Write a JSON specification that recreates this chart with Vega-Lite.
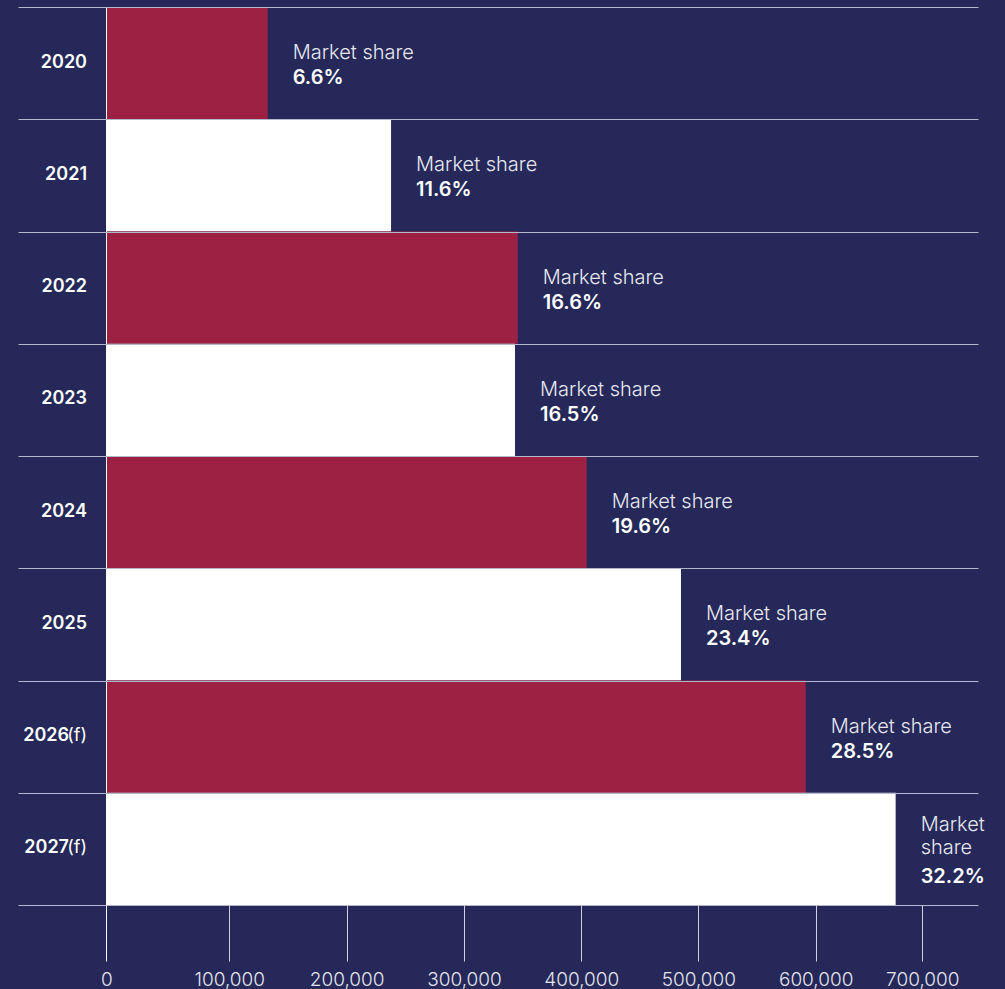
{
  "$schema": "https://vega.github.io/schema/vega-lite/v6.json",
  "width": 960,
  "height": 898,
  "autosize": {"type": "none"},
  "padding": {"left": 18, "top": 7, "right": 27, "bottom": 84},
  "background": "#252858",
  "config": {"view": {"stroke": null}, "font": "Inter"},
  "data": {
    "values": [
      {"year": "2020", "sales": 132700, "share": 6.6},
      {"year": "2021", "sales": 237800, "share": 11.6},
      {"year": "2022", "sales": 345800, "share": 16.6},
      {"year": "2023", "sales": 343500, "share": 16.5},
      {"year": "2024", "sales": 404600, "share": 19.6},
      {"year": "2025", "sales": 485200, "share": 23.4},
      {"year": "2026(f)", "sales": 591500, "share": 28.5},
      {"year": "2027(f)", "sales": 675000, "share": 32.2}
    ]
  },
  "transform": [
    {"calculate": "datum.sales > 650000", "as": "wrap"}
  ],
  "encoding": {
    "x": {
      "field": "sales",
      "type": "quantitative",
      "title": null,
      "scale": {
        "domain": [-71800, 0, 100000, 200000, 300000, 400000, 500000, 600000, 700000, 752250],
        "range": [0, 88.3, 211.3, 328.7, 446, 563.3, 680.3, 797.7, 904.3, 960],
        "nice": false,
        "zero": false
      },
      "axis": {
        "values": [0, 100000, 200000, 300000, 400000, 500000, 600000, 700000],
        "labelExpr": "format(datum.value, ',')",
        "domain": false,
        "tickSize": 56,
        "tickWidth": 1,
        "tickColor": {"condition": {"test": "datum.value === 0", "value": "#ffffff"}, "value": "#cfd1e0"},
        "labelPadding": 9,
        "labelFont": "Inter",
        "labelFontSize": 19,
        "labelFontWeight": 300,
        "labelColor": "#e2e3ec",
        "labelFlush": false,
        "grid": true,
        "gridWidth": 1,
        "gridColor": {"condition": {"test": "datum.value === 0", "value": "#ffffff"}, "value": "rgba(0,0,0,0)"},
        "zindex": 1
      }
    }
  },
  "layer": [
    {
      "mark": {"type": "bar"},
      "encoding": {
        "y": {
          "field": "year",
          "type": "nominal",
          "title": null,
          "scale": {"paddingInner": 0, "paddingOuter": 0},
          "axis": {
            "orient": "left",
            "domain": false,
            "ticks": false,
            "grid": true,
            "tickBand": "extent",
            "gridColor": "#b4b6cb",
            "gridWidth": 1.2,
            "labelPadding": {"condition": {"test": "datum.value && indexof(datum.value, '(f)') >= 0", "value": -50.5}, "value": -68.5},
            "labelOffset": -1,
            "labelAlign": "right",
            "labelBaseline": "middle",
            "labelFont": "Inter",
            "labelFontSize": 18,
            "labelFontWeight": 600,
            "labelColor": "#ffffff",
            "labelExpr": "datum.value ? replace(datum.value, '(f)', '') : ''",
            "zindex": 1
          }
        },
        "color": {
          "field": "year",
          "type": "nominal",
          "scale": {"range": ["#9c2142", "#ffffff"]},
          "legend": null
        }
      }
    },
    {
      "transform": [
        {"calculate": "datum.wrap ? 'Market\\nshare' : 'Market share'", "as": "lbl"}
      ],
      "mark": {
        "type": "text",
        "align": "left",
        "baseline": "alphabetic",
        "dx": 25,
        "dy": {"expr": "datum.wrap ? -18 : -4"},
        "font": "Inter",
        "fontSize": 20,
        "fontWeight": 300,
        "lineBreak": "\n",
        "lineHeight": 23,
        "color": "#e6e7f0"
      },
      "encoding": {
        "y": {
          "field": "year",
          "type": "nominal",
          "title": null,
          "axis": {
            "orient": "right",
            "domain": false,
            "ticks": false,
            "grid": false,
            "labelPadding": -891.5,
            "labelOffset": -1,
            "labelAlign": "right",
            "labelBaseline": "middle",
            "labelFont": "Inter",
            "labelFontSize": 18,
            "labelFontWeight": 400,
            "labelColor": "#ffffff",
            "labelExpr": "datum.value && indexof(datum.value, '(f)') >= 0 ? '(f)' : ''"
          }
        },
        "text": {"field": "lbl"}
      }
    },
    {
      "transform": [
        {"calculate": "format(datum.share, '.1f') + '%'", "as": "val"}
      ],
      "mark": {
        "type": "text",
        "align": "left",
        "baseline": "alphabetic",
        "dx": 25,
        "dy": {"expr": "datum.wrap ? 34 : 21"},
        "font": "Inter",
        "fontSize": 20,
        "fontWeight": 600,
        "color": "#ffffff"
      },
      "encoding": {
        "y": {"field": "year", "type": "nominal", "title": null, "axis": null},
        "text": {"field": "val"}
      }
    }
  ],
  "resolve": {"axis": {"y": "independent"}}
}
